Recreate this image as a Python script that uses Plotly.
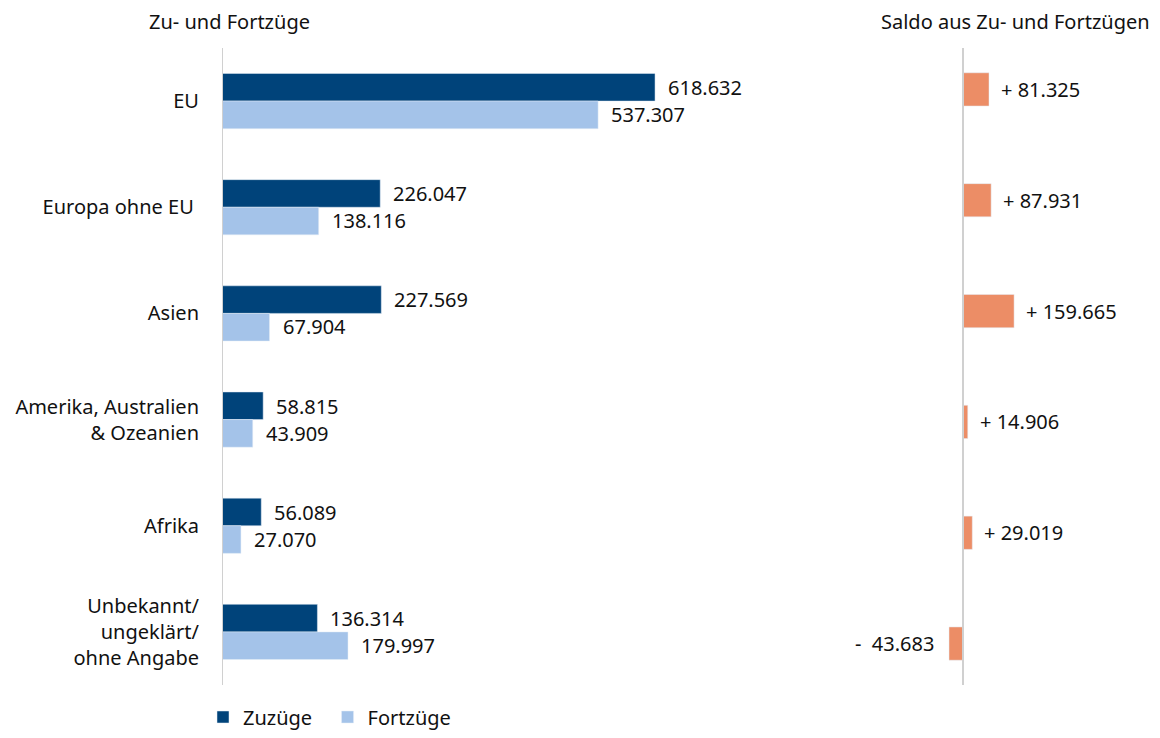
import plotly.graph_objects as go

categories = ["EU", "Europa ohne EU ", "Asien", "Amerika, Australien<br>& Ozeanien",
              "Afrika", "Unbekannt/<br>ungeklärt/<br>ohne Angabe"]
zuzuege = [618632, 226047, 227569, 58815, 56089, 136314]
fortzuege = [537307, 138116, 67904, 43909, 27070, 179997]
saldo = [81325, 87931, 159665, 14906, 29019, -43683]
legend_names = ["Zuzüge", "Fortzüge"]

DARK = "#00437A"
LIGHT = "#A4C3E9"
ORANGE = "#EC8D66"
AXIS = "#D0D0D0"
TXT = "#111111"
FONT = "Noto Sans"
FS = 20
OFF = 8  # page body margin
W, H = 1160 - 2 * OFF, 738 - 2 * OFF


def de(v):
    return f"{abs(v):,}".replace(",", ".")


def px_x(p):
    return (p - OFF) / W


def px_y(p):
    return 1 - (p - OFF) / H


fig = go.Figure()
fig.add_trace(go.Bar(y=categories, x=zuzuege, orientation="h",
                     name=legend_names[0] + "\u00a0\u00a0",
                     marker_color=DARK, xaxis="x", yaxis="y"))
fig.add_trace(go.Bar(y=categories, x=fortzuege, orientation="h", name=legend_names[1],
                     marker_color=LIGHT, xaxis="x", yaxis="y"))
fig.add_trace(go.Bar(y=categories, x=saldo, orientation="h", name="Saldo",
                     marker_color=ORANGE, xaxis="x2", yaxis="y2", width=0.3,
                     showlegend=False))

annotations = []
for c, z, f in zip(categories, zuzuege, fortzuege):
    annotations.append(dict(x=z, y=c, xref="x", yref="y", text=de(z), showarrow=False,
                            xanchor="left", xshift=11, yshift=13.5))
    annotations.append(dict(x=f, y=c, xref="x", yref="y", text=de(f), showarrow=False,
                            xanchor="left", xshift=11, yshift=-13.5))
for c, s in zip(categories, saldo):
    if s >= 0:
        annotations.append(dict(x=s, y=c, xref="x2", yref="y2", text="+ " + de(s),
                                showarrow=False, xanchor="left", xshift=10))
    else:
        annotations.append(dict(x=s, y=c, xref="x2", yref="y2",
                                text="-\u00a0\u00a0" + de(s),
                                showarrow=False, xanchor="right", xshift=-13))

annotations.append(dict(x=px_x(147), y=px_y(21), xref="paper", yref="paper",
                        text="Zu- und Fortzüge", showarrow=False,
                        xanchor="left", yanchor="middle"))
annotations.append(dict(x=1.0, y=px_y(21), xref="paper", yref="paper",
                        text="Saldo aus Zu- und Fortzügen", showarrow=False,
                        xanchor="right", yanchor="middle"))

shapes = [
    dict(type="line", xref="x", yref="paper", x0=0, x1=0, y0=px_y(685), y1=px_y(48),
         line=dict(color=AXIS, width=2)),
    dict(type="line", xref="x2", yref="paper", x0=0, x1=0, y0=px_y(685), y1=px_y(48),
         line=dict(color=AXIS, width=2)),
]

fig.update_layout(
    width=W, height=H,
    margin=dict(l=0, r=0, t=0, b=0, autoexpand=False),
    paper_bgcolor="white", plot_bgcolor="white",
    font=dict(family=FONT, size=FS, color=TXT),
    barmode="group", bargap=0.48, bargroupgap=0,
    xaxis=dict(domain=[px_x(222), px_x(860)], range=[0, 638 / 0.0007],
               showgrid=False, zeroline=False, showticklabels=False, ticks="",
               showline=False, fixedrange=True),
    yaxis=dict(domain=[px_y(685), px_y(48)], autorange="reversed", anchor="x",
               showgrid=False, zeroline=False, ticks="", showline=False,
               ticklabelstandoff=22, automargin=False,
               tickfont=dict(family=FONT, size=FS, color=TXT)),
    xaxis2=dict(domain=[px_x(900), 1.0], range=[-63 / 0.00032, (1160 - OFF - 963) / 0.00032],
                anchor="y2", showgrid=False, zeroline=False, showticklabels=False,
                ticks="", showline=False),
    yaxis2=dict(domain=[px_y(699), px_y(34)], autorange="reversed", anchor="x2",
                showgrid=False, zeroline=False, showticklabels=False, ticks="",
                showline=False),
    legend=dict(orientation="h", x=px_x(203), y=px_y(717), xanchor="left",
                yanchor="middle", font=dict(size=FS), itemwidth=30,
                bgcolor="rgba(0,0,0,0)"),
    annotations=annotations,
    shapes=shapes,
)

fig.write_html("out.html")
